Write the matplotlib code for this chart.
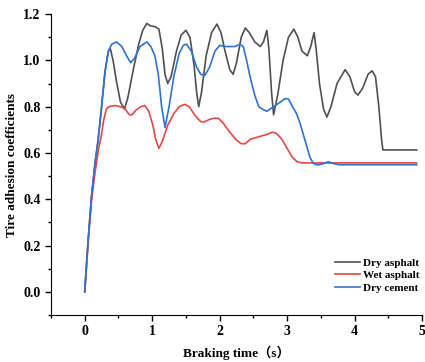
import matplotlib
matplotlib.use("Agg")
import matplotlib.pyplot as plt
from matplotlib.ticker import MultipleLocator

# values
t_dry_asphalt = [0, 0.05, 0.10, 0.15, 0.20, 0.25, 0.30, 0.35, 0.38, 0.42, 0.47, 0.53, 0.59,
                 0.64, 0.72, 0.80, 0.86, 0.92, 0.97, 1.05, 1.10, 1.15, 1.19, 1.23, 1.28,
                 1.36, 1.43, 1.50, 1.56, 1.62, 1.66, 1.69, 1.73, 1.80, 1.88, 1.96, 2.02,
                 2.08, 2.15, 2.20, 2.25, 2.32, 2.38, 2.44, 2.52, 2.60, 2.65, 2.70, 2.73,
                 2.77, 2.80, 2.86, 2.94, 3.02, 3.10, 3.16, 3.22, 3.30, 3.35, 3.40, 3.43,
                 3.48, 3.54, 3.59, 3.65, 3.74, 3.86, 3.93, 4.00, 4.05, 4.12, 4.20, 4.26,
                 4.31, 4.36, 4.40, 4.42, 4.92]
mu_dry_asphalt = [0, 0.22, 0.41, 0.55, 0.66, 0.80, 0.95, 1.04, 1.05, 1.00, 0.91, 0.82, 0.79,
                  0.84, 0.96, 1.07, 1.13, 1.16, 1.15, 1.145, 1.135, 1.05, 0.94, 0.90, 0.93,
                  1.04, 1.11, 1.13, 1.10, 0.98, 0.86, 0.80, 0.86, 1.02, 1.12, 1.157, 1.12,
                  1.04, 0.96, 0.94, 0.99, 1.10, 1.14, 1.12, 1.08, 1.06, 1.08, 1.13, 1.05,
                  0.86, 0.765, 0.85, 1.00, 1.10, 1.135, 1.10, 1.04, 1.02, 1.06, 1.12, 1.05,
                  0.90, 0.79, 0.755, 0.80, 0.90, 0.96, 0.93, 0.865, 0.85, 0.88, 0.94, 0.955,
                  0.93, 0.80, 0.66, 0.613, 0.613]

t_wet_asphalt = [0, 0.05, 0.10, 0.15, 0.20, 0.25, 0.28, 0.32, 0.36, 0.45, 0.53, 0.60, 0.66,
                 0.70, 0.76, 0.83, 0.89, 0.95, 1.01, 1.05, 1.10, 1.15, 1.23, 1.32, 1.40,
                 1.48, 1.55, 1.64, 1.72, 1.78, 1.85, 1.92, 1.98, 2.05, 2.15, 2.25, 2.32,
                 2.38, 2.46, 2.58, 2.70, 2.78, 2.84, 2.92, 3.00, 3.08, 3.15, 3.22, 4.92]
mu_wet_asphalt = [0, 0.21, 0.39, 0.51, 0.61, 0.68, 0.74, 0.79, 0.80, 0.805, 0.80, 0.79, 0.765,
                  0.765, 0.785, 0.80, 0.805, 0.78, 0.72, 0.66, 0.62, 0.65, 0.72, 0.77, 0.80,
                  0.81, 0.80, 0.76, 0.735, 0.735, 0.745, 0.75, 0.75, 0.73, 0.69, 0.655, 0.64,
                  0.64, 0.66, 0.67, 0.68, 0.69, 0.685, 0.66, 0.62, 0.58, 0.562, 0.557, 0.557]

t_dry_cement = [0, 0.05, 0.10, 0.15, 0.20, 0.25, 0.30, 0.35, 0.40, 0.47, 0.55, 0.62, 0.68,
                0.74, 0.82, 0.92, 0.98, 1.04, 1.09, 1.14, 1.19, 1.25, 1.32, 1.40, 1.46,
                1.51, 1.58, 1.66, 1.72, 1.78, 1.85, 1.93, 2.00, 2.08, 2.15, 2.23, 2.30,
                2.35, 2.40, 2.45, 2.52, 2.58, 2.63, 2.70, 2.80, 2.90, 2.97, 3.02, 3.08,
                3.14, 3.19, 3.27, 3.34, 3.39, 3.44, 3.52, 3.61, 3.68, 3.77, 4.92]
mu_dry_cement = [0, 0.22, 0.41, 0.55, 0.66, 0.80, 0.95, 1.04, 1.07, 1.08, 1.06, 1.02, 0.99,
                 1.01, 1.06, 1.08, 1.06, 1.02, 0.94, 0.80, 0.71, 0.80, 0.93, 1.03, 1.065,
                 1.07, 1.04, 0.97, 0.94, 0.935, 0.97, 1.04, 1.065, 1.06, 1.06, 1.06, 1.07,
                 1.06, 1.00, 0.93, 0.85, 0.80, 0.79, 0.78, 0.80, 0.82, 0.835, 0.833, 0.80,
                 0.77, 0.73, 0.65, 0.58, 0.555, 0.548, 0.552, 0.562, 0.555, 0.549, 0.549]

plt.rcParams['font.family'] = ['Liberation Serif', 'Noto Sans CJK SC']
plt.rcParams['font.weight'] = 'bold'

fig = plt.figure(figsize=(4.25, 3.62), dpi=100)
ax = fig.add_axes([0.12, 0.13, 0.873, 0.831])

ax.plot(t_dry_asphalt, mu_dry_asphalt, color='#505050', lw=1.2, label='Dry asphalt')
ax.plot(t_wet_asphalt, mu_wet_asphalt, color='#e84646', lw=1.2, label='Wet asphalt')
ax.plot(t_dry_cement, mu_dry_cement, color='#2f72d6', lw=1.2, label='Dry cement')

ax.set_xlim(-0.5, 5)
ax.set_ylim(-0.1, 1.2)
ax.xaxis.set_major_locator(MultipleLocator(1))
ax.xaxis.set_minor_locator(MultipleLocator(0.5))
ax.yaxis.set_major_locator(MultipleLocator(0.2))
ax.yaxis.set_minor_locator(MultipleLocator(0.1))
ax.yaxis.set_major_formatter(plt.FormatStrFormatter('%.1f'))

ax.spines['top'].set_visible(False)
ax.spines['right'].set_visible(False)
ax.tick_params(which='major', direction='out', length=4, width=1, labelsize=10)
ax.tick_params(which='minor', direction='out', length=2.5, width=1)
for lab in ax.get_xticklabels() + ax.get_yticklabels():
    lab.set_fontweight('bold')

ax.set_xlabel('Braking time（s）', fontsize=9.5, fontweight='bold', labelpad=5)
ax.set_ylabel('Tire adhesion coefficients', fontsize=9.5, fontweight='bold', labelpad=4)

ax.legend(loc='lower right', bbox_to_anchor=(1.02, 0.04), frameon=False,
          fontsize=8, handlelength=2.2, handletextpad=0.3, labelspacing=0.25,
          prop={'weight': 'bold', 'size': 8})

fig.savefig('out.png', dpi=100)
